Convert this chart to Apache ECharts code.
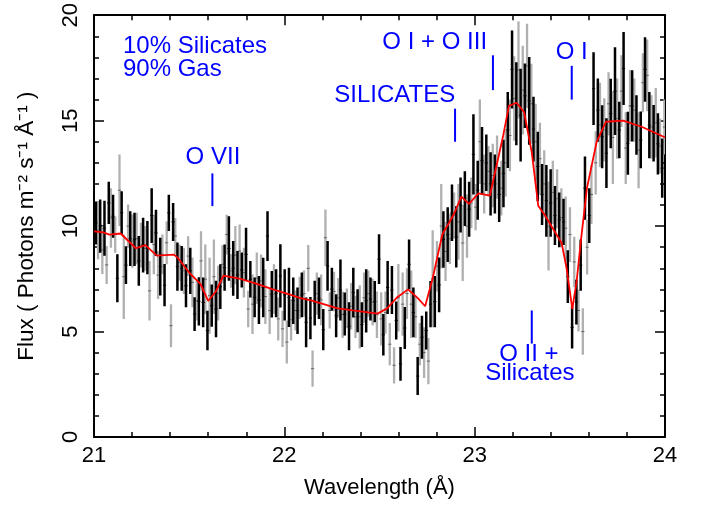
<!DOCTYPE html>
<html>
<head>
<meta charset="utf-8">
<script src="https://cdn.jsdelivr.net/npm/echarts@6/dist/echarts.min.js"></script>
<style>
  html, body { margin: 0; padding: 0; background: #fff; }
  #chart { width: 705px; height: 506px; }
</style>
</head>
<body>
<div id="chart"></div>
<script>
// Bin grid (Å) shared by both data sets; the grey set sits half a bin to the right
const BIN_START = 21.01;
const BIN_STEP = 0.02254;

// Black data: flux and 1-sigma error
const blackFlux = [
    10.15, 10.0, 9.9, 11.1, 10.47, 7.53, 10.63, 8.15, 9.41, 9.37, 8.35, 9.1, 8.98, 10.5, 9.68, 8.08,
    7.2, 10.63, 10.2, 8.08, 8.0, 7.17, 7.88, 5.83, 6.43, 6.38, 5.05, 6.23, 6.07, 7.13, 8.03, 8.94,
    8.0, 7.68, 7.92, 8.66, 7.48, 6.62, 6.5, 7.09, 9.53, 6.77, 6.82, 7.64, 6.74, 6.62,
    6.46, 5.99, 6.74, 5.44, 5.64, 6.35, 6.58, 5.09, 8.11, 7.01, 5.75, 6.97, 5.83, 5.25, 6.85, 5.99,
    5.33, 6.46, 6.54, 6.42, 8.43, 4.85, 7.09, 6.97, 5.52, 3.47, 5.17, 8.19, 5.91, 2.89, 4.73, 5.05,
    6.3, 6.42, 7.21, 9.37, 9.6, 10.63, 9.49, 11.0, 11.3, 10.8, 13.4, 11.7,
    13.1, 13.0, 12.0, 12.0, 11.5, 12.5, 14.56, 17.43, 15.8, 15.26, 16.18, 15.94, 14.6, 12.83, 11.5, 11.2,
    11.1, 10.5, 10.3, 10.2, 7.6, 5.2, 6.4, 8.15, 11.8, 10.5, 16.52, 15.5, 14.24, 13.46, 15.34, 16.4,
    14.56, 17.47, 13.93, 15.7, 14.79, 14.09, 17.43, 14.79, 14.4, 13.9, 12.75
];
const blackErr = [
    1.02, 1.26, 1.3, 1.0, 1.02, 1.14, 1.02, 0.9, 1.3, 1.26, 1.18, 1.3, 1.26, 1.3, 1.1, 1.37,
    1.0, 0.86, 0.9, 1.14, 1.06, 1.02, 1.1, 0.8, 1.14, 1.18, 0.94, 1.0, 1.34, 1.06, 1.1, 1.53,
    1.3, 1.14, 0.83, 1.26, 0.86, 0.94, 1.14, 1.41, 1.18, 1.1, 1.14, 1.5, 1.22, 1.4,
    1.1, 1.1, 1.06, 1.18, 1.0, 1.06, 0.98, 0.98, 1.18, 1.02, 1.02, 1.45, 1.02, 1.14, 1.18, 1.02,
    1.06, 1.5, 1.02, 0.98, 1.18, 0.98, 1.26, 1.14, 0.9, 0.8, 1.0, 1.18, 1.18, 0.9, 1.02, 0.9,
    1.1, 1.22, 1.3, 1.34, 1.3, 1.34, 1.45, 1.3, 1.3, 1.3, 1.9, 1.4,
    1.6, 1.34, 1.5, 1.4, 1.3, 1.6, 1.8, 1.85, 1.97, 2.2, 1.53, 2.08, 1.53, 1.65, 1.45, 1.7,
    1.6, 1.4, 1.3, 1.1, 1.25, 1.0, 1.06, 1.22, 1.5, 1.3, 1.73, 1.5, 1.49, 1.65, 1.65, 2.08,
    1.34, 1.73, 1.49, 1.69, 1.41, 1.34, 1.53, 1.57, 1.34, 1.45, 1.41
];

// Grey data: flux and 1-sigma error
const grayFlux = [
    9.81, 8.87, 8.16, 10.39, 9.6, 11.7, 7.6, 10.0, 9.29, 9.41, 9.1, 8.94, 6.93, 9.13, 7.68, 8.66,
    9.21, 5.28, 9.53, 8.27, 7.88, 8.58, 7.33, 6.46, 8.35, 7.48, 6.7, 7.6, 6.82, 8.19, 9.6, 7.88,
    8.62, 8.82, 7.8, 6.07, 6.3, 7.53, 7.4, 6.66, 5.99, 7.01, 5.6, 5.13, 4.5, 5.56,
    6.0, 6.6, 6.8, 8.0, 3.24, 6.8, 6.5, 9.45, 6.0, 6.9, 6.6, 5.8, 6.1, 6.2, 5.7, 5.7,
    6.6, 6.8, 6.4, 5.8, 5.6, 5.9, 4.4, 3.4, 6.6, 6.3, 6.8, 6.3, 5.7, 4.4, 4.0, 3.6,
    7.5, 8.1, 10.0, 8.8, 9.4, 10.5, 10.2, 9.2, 10.0, 11.1, 10.9, 14.0,
    12.0, 12.6, 12.4, 12.8, 11.8, 13.0, 14.3, 16.05, 17.4, 16.45, 17.6, 15.8, 14.0, 13.2, 12.0, 10.0,
    11.6, 11.3, 10.4, 9.9, 9.6, 8.3, 6.0, 5.0, 9.0, 11.5, 13.0, 14.8, 14.56, 15.8, 14.2, 15.1,
    16.4, 13.7, 15.7, 15.5, 13.6, 16.8, 17.15, 14.7, 14.9, 13.8, 14.7
];
const grayErr = [
    1.38, 1.14, 0.9, 1.41, 0.86, 1.7, 2.0, 1.02, 1.26, 1.22, 1.06, 1.06, 1.41, 1.41, 1.14, 0.94,
    1.02, 1.02, 0.86, 0.86, 1.1, 0.94, 1.18, 0.94, 1.41, 1.65, 1.8, 1.77, 1.3, 0.9, 0.94, 0.8,
    1.38, 1.26, 1.18, 0.86, 1.41, 1.22, 1.26, 1.3, 1.1, 1.18, 1.02, 0.86, 1.02, 0.98,
    0.95, 1.0, 1.1, 1.1, 0.86, 1.0, 1.2, 1.34, 0.86, 0.94, 0.94, 1.1, 0.94, 1.1, 1.0, 1.5,
    1.2, 1.1, 1.1, 1.1, 1.26, 1.0, 1.0, 0.86, 1.6, 1.5, 1.2, 1.6, 1.0, 1.0, 1.2, 1.1,
    2.3, 1.2, 2.0, 1.4, 1.2, 1.1, 1.8, 1.8, 1.5, 1.2, 1.1, 2.0,
    1.4, 1.2, 1.5, 1.5, 1.3, 1.6, 1.7, 2.0, 2.3, 2.1, 2.0, 1.9, 1.8, 1.7, 1.6, 2.1,
    1.5, 1.4, 1.4, 1.5, 1.3, 1.2, 1.0, 1.1, 1.3, 1.4, 1.5, 2.0, 1.5, 1.5, 2.2, 1.9,
    1.7, 1.7, 1.7, 1.5, 1.8, 1.4, 1.7, 1.5, 1.65, 1.3, 1.3
];

// Model (red curve)
const modelWave = [
    21.0, 21.05, 21.08, 21.14, 21.22, 21.27, 21.33, 21.42, 21.44, 21.5, 21.56, 21.6, 21.64, 21.68,
    21.77, 21.86, 21.94, 22.03, 22.08, 22.15, 22.28, 22.36, 22.49, 22.54, 22.59, 22.65, 22.7, 22.74,
    22.78, 22.83, 22.89, 22.93, 22.97, 23.02, 23.08, 23.15, 23.18, 23.22, 23.26, 23.3, 23.334, 23.37,
    23.41, 23.457, 23.483, 23.513, 23.536, 23.56, 23.59, 23.641, 23.69, 23.78, 23.88, 23.99, 24.0
];
const modelFlux = [
    9.75, 9.7, 9.6, 9.65, 8.95, 9.1, 8.6, 8.65, 8.5, 7.8, 7.25, 6.45, 6.9, 7.65,
    7.5, 7.25, 7.0, 6.75, 6.6, 6.45, 6.1, 6.0, 5.85, 6.1, 6.6, 7.0, 6.6, 6.2,
    7.55, 9.6, 10.55, 11.4, 11.05, 11.55, 11.45, 14.3, 15.7, 15.85, 15.4, 13.5, 10.97, 10.5,
    9.9, 9.2, 8.0, 6.07, 7.4, 9.45, 11.8, 14.0, 14.95, 15.0, 14.7, 14.25, 14.2
];

// Line identifications
const annoText = ['10% Silicates', '90% Gas', 'O VII', 'SILICATES', 'O I + O III', 'O I', 'O II +', 'Silicates'];
const annoWave = [21.152, 21.152, 21.625, 22.58, 22.79, 23.51, 23.285, 23.29];
const annoFlux = [18.54, 17.45, 13.25, 16.2, 18.73, 18.25, 3.9, 3.0];
const markWave = [21.622, 22.897, 23.096, 23.51, 23.30];
const markLow = [10.95, 14.0, 16.45, 16.0, 4.43];
const markHigh = [12.5, 15.57, 18.1, 17.6, 6.0];

const FONT = "'Liberation Sans', Arial, Helvetica, sans-serif";

function binData(flux, err, offset) {
    return flux.map((f, i) => [BIN_START + offset + i * BIN_STEP, f, err[i]]);
}

function errorBarRenderer(color, width, dotColor) {
    return function (params, api) {
        const x = api.value(0), c = api.value(1), e = api.value(2);
        const top = api.coord([x, c + e]);
        const bot = api.coord([x, c - e]);
        const mid = api.coord([x, c]);
        return {
            type: 'group',
            children: [
                { type: 'line', shape: { x1: top[0], y1: top[1], x2: bot[0], y2: bot[1] },
                  style: { stroke: color, lineWidth: width } },
                { type: 'line', shape: { x1: mid[0] - 1.6, y1: mid[1], x2: mid[0] + 1.6, y2: mid[1] },
                  style: { stroke: dotColor, lineWidth: 1 } }
            ]
        };
    };
}

const chart = echarts.init(document.getElementById('chart'), null, { renderer: 'canvas' });

const tickCommon = {
    axisLine: { show: true, onZero: false, lineStyle: { color: '#000', width: 2 } },
    axisTick: { show: true, inside: true, length: 10, lineStyle: { color: '#000', width: 1.5 } },
    minorTick: { show: true, splitNumber: 5, length: 5, lineStyle: { color: '#000', width: 1.5 } },
    splitLine: { show: false },
    minorSplitLine: { show: false }
};

const option = {
    animation: false,
    backgroundColor: '#fff',
    grid: { left: 94, right: 40, top: 13, bottom: 69, containLabel: false },
    xAxis: [
        Object.assign({
            type: 'value', min: 21, max: 24, interval: 1, position: 'bottom',
            name: 'Wavelength (Å)', nameLocation: 'middle', nameGap: 40,
            nameTextStyle: { fontFamily: FONT, fontSize: 22, color: '#000' },
            axisLabel: { fontFamily: FONT, fontSize: 22, color: '#000', margin: 8 }
        }, tickCommon),
        Object.assign({
            type: 'value', min: 21, max: 24, interval: 1, position: 'top',
            axisLabel: { show: false }
        }, tickCommon)
    ],
    yAxis: [
        Object.assign({
            type: 'value', min: 0, max: 20, interval: 5, position: 'left',
            name: 'Flux ( Photons m⁻² s⁻¹ Å⁻¹ )', nameLocation: 'middle', nameGap: 56,
            nameTextStyle: { fontFamily: FONT, fontSize: 22.5, color: '#000' },
            axisLabel: { fontFamily: FONT, fontSize: 22, color: '#000', rotate: 90, margin: 12 }
        }, tickCommon),
        Object.assign({
            type: 'value', min: 0, max: 20, interval: 5, position: 'right',
            axisLabel: { show: false }
        }, tickCommon)
    ],
    series: [
        {
            name: 'grey', type: 'custom', clip: true,
            renderItem: errorBarRenderer('#b0b0b0', 2.3, '#666'),
            data: binData(grayFlux, grayErr, BIN_STEP / 2), z: 1
        },
        {
            name: 'black', type: 'custom', clip: true,
            renderItem: errorBarRenderer('#000', 2.5, '#000'),
            data: binData(blackFlux, blackErr, 0), z: 2
        },
        {
            name: 'model', type: 'line', showSymbol: false, smooth: false, z: 3,
            lineStyle: { color: '#ff0000', width: 1.8 },
            data: modelWave.map((w, i) => [w, modelFlux[i]])
        },
        {
            name: 'marks', type: 'custom', z: 4,
            renderItem: function (params, api) {
                const a = api.coord([api.value(0), api.value(1)]);
                const b = api.coord([api.value(0), api.value(2)]);
                return { type: 'line', shape: { x1: a[0], y1: a[1], x2: b[0], y2: b[1] },
                         style: { stroke: '#0000ff', lineWidth: 2 } };
            },
            data: markWave.map((w, i) => [w, markLow[i], markHigh[i]])
        },
        {
            name: 'labels', type: 'custom', z: 4,
            renderItem: function (params, api) {
                const p = api.coord([api.value(0), api.value(1)]);
                const i = params.dataIndex;
                return {
                    type: 'text',
                    style: {
                        text: annoText[i], x: p[0], y: p[1],
                        fill: '#0000ff', font: '24px ' + FONT,
                        align: i < 2 ? 'left' : 'center', verticalAlign: 'middle'
                    }
                };
            },
            data: annoWave.map((w, i) => [w, annoFlux[i]])
        }
    ]
};

chart.setOption(option);
</script>
</body>
</html>
